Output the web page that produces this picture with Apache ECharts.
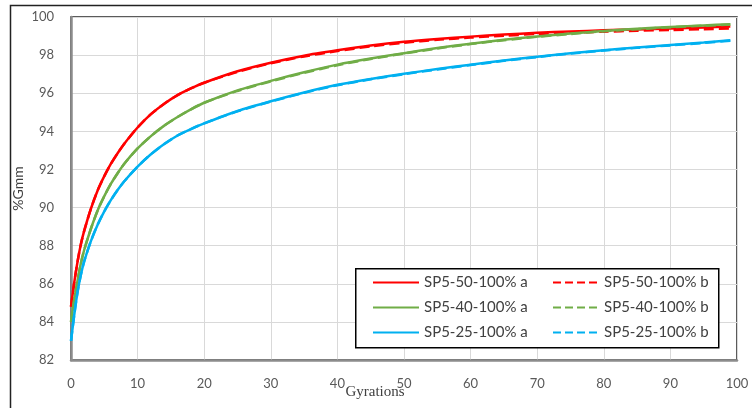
<!DOCTYPE html>
<html>
<head>
<meta charset="utf-8">
<script src="https://cdn.jsdelivr.net/npm/echarts@6/dist/echarts.min.js"></script>
<style>html,body{margin:0;padding:0;background:#fff;}#c{width:752px;height:408px;}</style>
</head>
<body>
<div id="c"></div>
<script>
// Gyration sample points
var gyrations = [0,0.5,1,1.5,2,3,4,5,6,7,8,10,12,14,16,18,20,25,30,35,40,45,50,55,60,65,70,75,80,85,90,95,99];
var sp50a = [84.8,86.1,87.2,88.1,88.8,89.95,90.9,91.65,92.3,92.85,93.35,94.2,94.9,95.45,95.9,96.25,96.55,97.15,97.6,97.97,98.25,98.5,98.7,98.85,98.97,99.08,99.17,99.24,99.3,99.35,99.4,99.45,99.5];
var sp50b = [84.8,86.1,87.2,88.1,88.8,89.95,90.9,91.65,92.3,92.85,93.35,94.2,94.9,95.45,95.9,96.25,96.55,97.12,97.57,97.93,98.21,98.46,98.65,98.8,98.92,99.02,99.11,99.18,99.23,99.28,99.32,99.36,99.4];
var sp40a = [84.0,85.2,86.2,87.1,87.8,88.9,89.85,90.6,91.25,91.8,92.3,93.1,93.75,94.3,94.75,95.15,95.5,96.15,96.65,97.1,97.5,97.82,98.1,98.37,98.6,98.8,98.98,99.13,99.27,99.38,99.48,99.56,99.62];
var sp40b = [84.0,85.2,86.2,87.1,87.8,88.9,89.85,90.6,91.25,91.8,92.3,93.1,93.75,94.3,94.75,95.15,95.5,96.12,96.62,97.07,97.47,97.8,98.08,98.35,98.58,98.78,98.96,99.11,99.25,99.36,99.46,99.54,99.6];
var sp25a = [83.0,84.4,85.6,86.5,87.2,88.25,89.1,89.8,90.4,90.92,91.38,92.15,92.8,93.33,93.78,94.12,94.42,95.07,95.58,96.04,96.44,96.75,97.02,97.27,97.5,97.72,97.92,98.1,98.26,98.4,98.53,98.66,98.78];
var sp25b = [83.0,84.4,85.6,86.5,87.2,88.25,89.1,89.8,90.4,90.92,91.38,92.15,92.8,93.33,93.78,94.12,94.42,95.05,95.56,96.02,96.42,96.73,97.0,97.25,97.48,97.7,97.9,98.08,98.24,98.38,98.51,98.64,98.76];
var seriesNames = ['SP5-50-100% a','SP5-50-100% b','SP5-40-100% a','SP5-40-100% b','SP5-25-100% a','SP5-25-100% b'];
var seriesValues = [sp50a, sp50b, sp40a, sp40b, sp25a, sp25b];
var seriesColors = ['#ff0000','#ff0000','#70ad47','#70ad47','#00b0f0','#00b0f0'];
var seriesDash = ['solid','dashed','solid','dashed','solid','dashed'];

function pairs(xs, ys){ return xs.map(function(x,i){ return [x, ys[i]]; }); }

var series = seriesNames.map(function(n, i){
  return {
    name: n, type: 'line', symbol: 'none', showSymbol: false, smooth: 0.25,
    data: pairs(gyrations, seriesValues[i]),
    lineStyle: { color: seriesColors[i], width: 2.5, type: seriesDash[i] },
    itemStyle: { color: seriesColors[i] }
  };
});

var chart = echarts.init(document.getElementById('c'), null, {renderer:'canvas'});
chart.setOption({
  animation: false,
  backgroundColor: '#fff',
  grid: { left: 71, top: 17, right: 15, bottom: 48, outerBoundsMode: 'none', containLabel: false, show: true, borderColor: '#262626', borderWidth: 1.5, backgroundColor: 'transparent' },
  xAxis: {
    type: 'value', min: 0, max: 100, interval: 10,
    name: 'Gyrations', nameLocation: 'middle', nameGap: 25, nameMoveOverlap: false,
    nameTextStyle: { fontFamily: 'Liberation Serif', fontSize: 15, color: '#404040', padding: [0, 58, 0, 0] },
    axisLine: { lineStyle: { color: '#8c8c8c', width: 2.5 } },
    axisTick: { show: false },
    axisLabel: { margin: 17, fontFamily: 'Lato', fontSize: 13, color: '#595959' },
    splitLine: { lineStyle: { color: '#d9d9d9', width: 1 } }
  },
  yAxis: {
    type: 'value', min: 82, max: 100, interval: 2,
    name: '%Gmm', nameLocation: 'middle', nameGap: 46, nameMoveOverlap: false,
    nameTextStyle: { fontFamily: 'Lato', fontSize: 14, color: '#404040' },
    axisLine: { show: true, lineStyle: { color: '#8c8c8c', width: 2.5 } },
    axisTick: { show: false },
    axisLabel: { margin: 17, fontFamily: 'Lato', fontSize: 13, color: '#595959' },
    splitLine: { lineStyle: { color: '#d9d9d9', width: 1 } }
  },
  legend: {
    data: seriesNames,
    left: 372, top: 270, width: 362,
    orient: 'horizontal',
    itemWidth: 46, itemHeight: 14, itemGap: 0,
    padding: 0,
    itemStyle: { opacity: 0 },
    textStyle: { fontFamily: 'Lato', fontSize: 15, color: '#404040', width: 128, lineHeight: 25 }
  },
  graphic: [
    { type: 'rect', left: 8, top: 3, shape: { width: 800, height: 500 }, style: { fill: 'none', stroke: '#222', lineWidth: 1.5 }, z: -1, silent: true },
    { type: 'rect', left: 355, top: 268, shape: { width: 363, height: 79 }, style: { fill: '#fff', stroke: '#000', lineWidth: 1.5 }, z: 3, silent: true }
  ],
  series: series
});
</script>
</body>
</html>
